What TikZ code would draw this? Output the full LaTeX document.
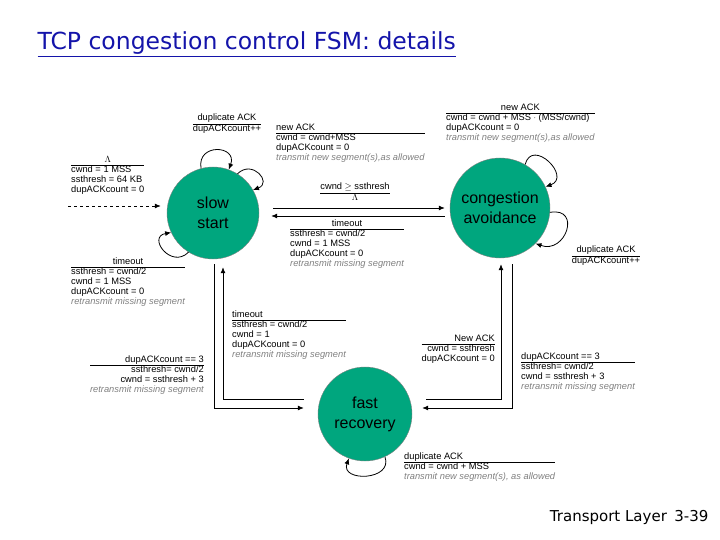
\documentclass[tikz,border=0pt]{standalone}
\usepackage{fontspec}
\setmainfont{Liberation Sans}
\newfontfamily\titlefont{DejaVu Sans}
\usetikzlibrary{arrows.meta, positioning}
\definecolor{fsmgreen}{RGB}{0,166,126}
\definecolor{titleblue}{RGB}{20,20,170}
\newcommand\note[1]{{\color{gray}\itshape #1}}
\newcommand\trans[2]{\begin{tabular}{@{}c@{}}#1\\\hline #2\end{tabular}}
\renewcommand\arraystretch{0.95}
\begin{document}
\begin{tikzpicture}[x=1pt, y=-1pt,
state/.style={circle, draw=black!50, fill=fsmgreen, align=center,
font=\fontsize{16}{20}\selectfont, minimum size=92pt, inner sep=0pt},
label/.style={font=\fontsize{9.3}{10.5}\selectfont, inner sep=0pt, align=left},
line/.style={draw, thick, -{Latex[length=6pt,width=5pt]}},
loop/.style={line, looseness=2.4}
]
\useasboundingbox (0,0) rectangle (720,540);

\node [anchor=west, font=\titlefont\fontsize{23.5}{28}\selectfont, text=titleblue] (title) at (34,44) {\underline{TCP congestion control FSM: details}};
\node [anchor=east, font=\titlefont\fontsize{15}{18}\selectfont] (footer) at (712,517) {Transport Layer\enspace 3-39};

\node [state] (ss) at (213,213) {slow\\start};
\node [state, minimum size=100pt] (ca) at (500,208) {congestion\\avoidance};
\node [state, minimum size=94pt] (fr) at (365,414) {fast\\recovery};

% initial transition
\coordinate (init) at (68,206);
\draw [line, dashed] (init) -- ([xshift=-6pt]init -| ss.west);
\node [label, anchor=north west] (lbl-init) at (71,155) {\begin{tabular}{@{}l@{}}\multicolumn{1}{c}{$\Lambda$}\\\hline cwnd = 1 MSS\\ssthresh = 64 KB\\dupACKcount = 0\end{tabular}};

% slow start loops
\draw [loop] (ss.105) to[out=100, in=70] (ss.70);
\node [label] (lbl-ss-dup) at (227,124) {\trans{duplicate ACK}{dupACKcount++}};
\draw [loop] (ss.58) to[out=45, in=20] (ss.30);
\node [label, anchor=north west] (lbl-ss-new) at (276,123) {\begin{tabular}{@{}l@{}}new ACK\\\hline cwnd = cwnd+MSS\\dupACKcount = 0\\\note{transmit new segment(s),as allowed}\end{tabular}};
\draw [loop] (ss.238) to[out=225, in=190] (ss.205);
\node [label, anchor=north west] (lbl-ss-to) at (71,257) {\begin{tabular}{@{}l@{}}\multicolumn{1}{c}{timeout}\\\hline ssthresh = cwnd/2\\cwnd = 1 MSS\\dupACKcount = 0\\\note{retransmit missing segment}\end{tabular}};

% slow start <-> congestion avoidance
\draw [line] ([xshift=14pt,yshift=5pt]ss.east) -- ([xshift=-5pt,yshift=0pt]ca.west);
\draw [line] ([xshift=-5pt,yshift=-8pt]ca.west) -- ([xshift=12pt,yshift=-3pt]ss.east);
\node [label] (lbl-ss-ca) at (355,193) {\trans{cwnd $\geq$ ssthresh}{$\Lambda$}};
\node [label, anchor=north west] (lbl-ca-ss) at (290,219) {\begin{tabular}{@{}l@{}}\multicolumn{1}{c}{timeout}\\\hline ssthresh = cwnd/2\\cwnd = 1 MSS\\dupACKcount = 0\\\note{retransmit missing segment}\end{tabular}};

% congestion avoidance loops
\draw [loop] (ca.60) to[out=75, in=20] (ca.25);
\node [label, anchor=north west] (lbl-ca-new) at (446,103) {\begin{tabular}{@{}l@{}}\multicolumn{1}{c}{new ACK}\\\hline cwnd = cwnd + MSS $\cdot$ (MSS/cwnd)\\dupACKcount = 0\\\note{transmit new segment(s),as allowed}\end{tabular}};
\draw [loop] (ca.-5) to[out=10, in=-20] (ca.-45);
\node [label] (lbl-ca-dup) at (606,256) {\trans{duplicate ACK}{dupACKcount++}};

% slow start <-> fast recovery
\draw [line] ([xshift=1pt,yshift=-5pt]ss.south) |- ([xshift=-14pt,yshift=6pt]fr.west);
\draw [line] ([xshift=-14pt,yshift=15pt]fr.west) -| ([xshift=10pt,yshift=-8pt]ss.south);
\node [label, anchor=north east] (lbl-ss-fr) at (204,355) {\begin{tabular}{@{}r@{}}dupACKcount == 3\\\hline ssthresh= cwnd/2\\cwnd = ssthresh + 3\\\note{retransmit missing segment}\end{tabular}};
\node [label, anchor=north west] (lbl-fr-ss) at (232,310) {\begin{tabular}{@{}l@{}}timeout\\\hline ssthresh = cwnd/2\\cwnd = 1\\dupACKcount = 0\\\note{retransmit missing segment}\end{tabular}};

% congestion avoidance <-> fast recovery
\draw [line] ([xshift=14pt,yshift=15pt]fr.east) -| ([xshift=1pt,yshift=-6pt]ca.south);
\draw [line] ([xshift=12pt,yshift=-6pt]ca.south) |- ([xshift=10pt,yshift=6pt]fr.east);
\node [label, anchor=north east] (lbl-fr-ca) at (495,334) {\begin{tabular}{@{}r@{}}New ACK\\\hline cwnd = ssthresh\\dupACKcount = 0\end{tabular}};
\node [label, anchor=north west] (lbl-ca-fr) at (521,352) {\begin{tabular}{@{}l@{}}dupACKcount == 3\\\hline ssthresh= cwnd/2\\cwnd = ssthresh + 3\\\note{retransmit missing segment}\end{tabular}};

% fast recovery loop
\draw [line, looseness=1.8] (fr.-65) to[out=-70, in=-110] (fr.-110);
\node [label, anchor=north west] (lbl-fr-dup) at (404,452) {\begin{tabular}{@{}l@{}}duplicate ACK\\\hline cwnd = cwnd + MSS\\\note{transmit new segment(s), as allowed}\end{tabular}};
\end{tikzpicture}
\end{document}
